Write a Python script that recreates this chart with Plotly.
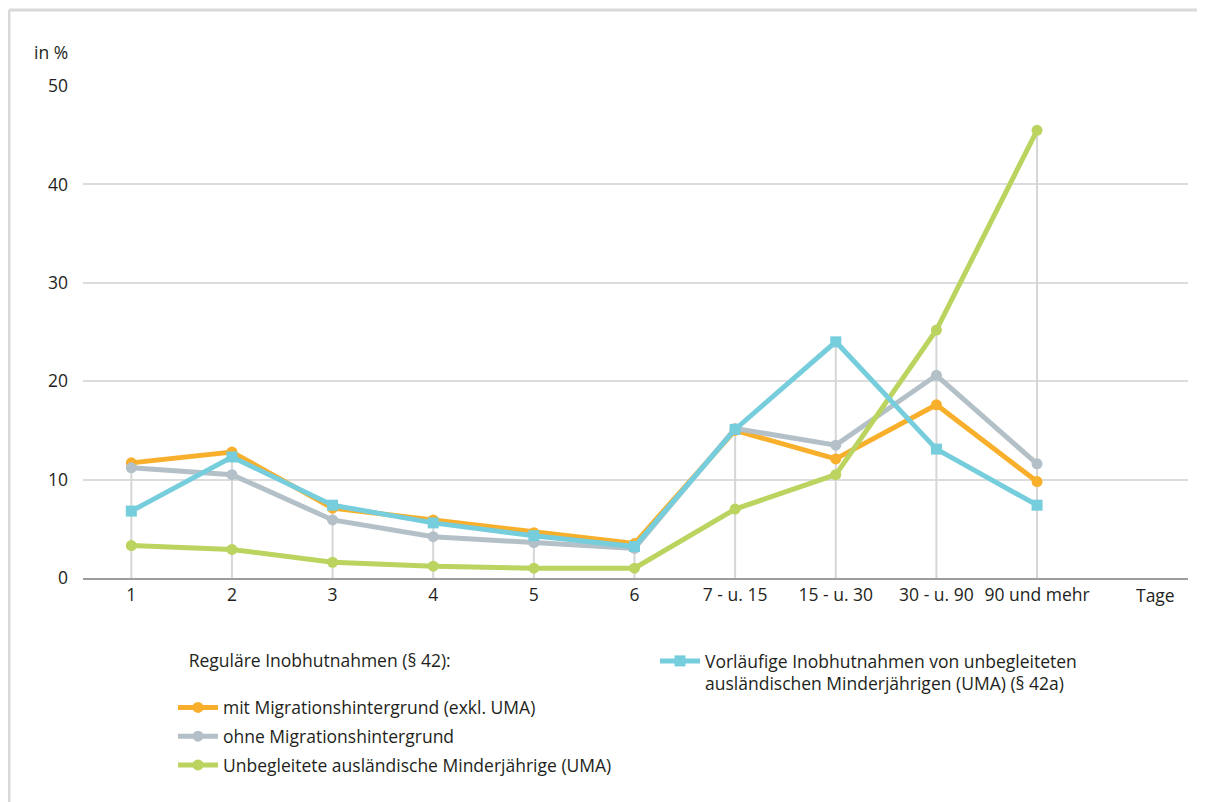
import plotly.graph_objects as go

categories = ["1", "2", "3", "4", "5", "6", "7 - u. 15", "15 - u. 30", "30 - u. 90", "90 und mehr"]

mit_migration = [11.7, 12.8, 7.1, 5.9, 4.6, 3.5, 15.0, 12.1, 17.6, 9.8]
ohne_migration = [11.2, 10.5, 5.9, 4.2, 3.6, 3.0, 15.2, 13.5, 20.6, 11.6]
uma_regulaer = [3.3, 2.9, 1.6, 1.2, 1.0, 1.0, 7.0, 10.5, 25.2, 45.5]
uma_vorlaeufig = [6.8, 12.3, 7.4, 5.6, 4.3, 3.2, 15.1, 24.0, 13.1, 7.4]

names = [
    "mit Migrationshintergrund (exkl. UMA)",
    "ohne Migrationshintergrund",
    "Unbegleitete ausländische Minderjährige (UMA)",
    "Vorläufige Inobhutnahmen von unbegleiteten<br>ausländischen Minderjährigen (UMA) (§ 42a)",
]
colors = ["#F8AF2B", "#B4C0C7", "#BBD35F", "#76CDDC"]

FONT = "Open Sans"
TEXT = "#231F20"
FS = 17.5

W, H = 1197, 794  # page body adds an 8px offset

fig = go.Figure()

# drop lines from each category's highest value to the axis
all_series = [mit_migration, ohne_migration, uma_regulaer, uma_vorlaeufig]
dx, dy = [], []
for i, c in enumerate(categories):
    top = max(s[i] for s in all_series)
    dx += [c, c, None]
    dy += [0, top, None]
fig.add_trace(go.Scatter(x=dx, y=dy, mode="lines", line=dict(color="#D6D6D6", width=2),
                         showlegend=False, hoverinfo="skip"))

series = [mit_migration, ohne_migration, uma_regulaer, uma_vorlaeufig]
symbols = ["circle", "circle", "circle", "square"]
legends = ["legend", "legend", "legend", "legend2"]
for k, (vals, nm, col, sym, lg) in enumerate(zip(series, names, colors, symbols, legends)):
    fig.add_trace(go.Scatter(
        x=categories, y=vals, name=nm, mode="lines+markers",
        line=dict(color=col, width=5),
        marker=dict(color=col, size=11, symbol=sym),
        legend=lg, legendgroup=f"g{k}",
    ))

fig.update_layout(
    width=W, height=H,
    paper_bgcolor="white", plot_bgcolor="white",
    margin=dict(l=75, r=17, t=78, b=224, autoexpand=False),
    font=dict(family=FONT, size=FS, color=TEXT),
    legend=dict(
        title=dict(text="&nbsp;&nbsp;&nbsp;Reguläre Inobhutnahmen (§ 42):<br> ",
                   font=dict(family=FONT, size=FS, color=TEXT)),
        xref="container", yref="container",
        x=165 / W, y=1 - 636 / H, xanchor="left", yanchor="top",
        font=dict(family=FONT, size=FS, color=TEXT),
        bgcolor="rgba(0,0,0,0)", tracegroupgap=3, itemwidth=40,
    ),
    legend2=dict(
        xref="container", yref="container",
        x=647 / W, y=1 - 635 / H, xanchor="left", yanchor="top",
        font=dict(family=FONT, size=FS, color=TEXT),
        bgcolor="rgba(0,0,0,0)", valign="top", itemwidth=40,
    ),
    showlegend=True,
)

fig.update_xaxes(
    type="category", categoryorder="array", categoryarray=categories,
    range=[-0.48, 10.5], showgrid=False, zeroline=False,
    showline=True, linecolor="#9D9D9D", linewidth=2,
    ticks="", tickfont=dict(family=FONT, size=FS, color=TEXT),
)
fig.update_yaxes(
    range=[0, 50], tickvals=[0, 10, 20, 30, 40, 50],
    showgrid=True, gridcolor="#DCDCDC", gridwidth=1.5, zeroline=False,
    ticks="", ticklabelstandoff=14, tickfont=dict(family=FONT, size=FS, color=TEXT),
)

fig.add_annotation(text="in %", xref="paper", yref="paper",
                   x=(32 - 83) / 1105, y=(578 - 52) / 492, xanchor="left", yanchor="middle",
                   showarrow=False, font=dict(family=FONT, size=FS, color=TEXT))
fig.add_annotation(text="Tage", xref="paper", yref="paper",
                   x=(1155 - 83) / 1105, y=0, xanchor="center", yanchor="top", yshift=-3,
                   showarrow=False, font=dict(family=FONT, size=FS, color=TEXT))

# outer frame (top and left edges)
fig.add_shape(type="line", xref="paper", yref="paper",
              x0=(9 - 83) / 1105, x1=1.2, y0=(578 - 10) / 492, y1=(578 - 10) / 492,
              line=dict(color="#D9D9D9", width=3))
fig.add_shape(type="line", xref="paper", yref="paper",
              x0=(9 - 83) / 1105, x1=(9 - 83) / 1105, y0=(578 - 10) / 492, y1=-0.6,
              line=dict(color="#D9D9D9", width=3))

fig.write_html("out.html")
